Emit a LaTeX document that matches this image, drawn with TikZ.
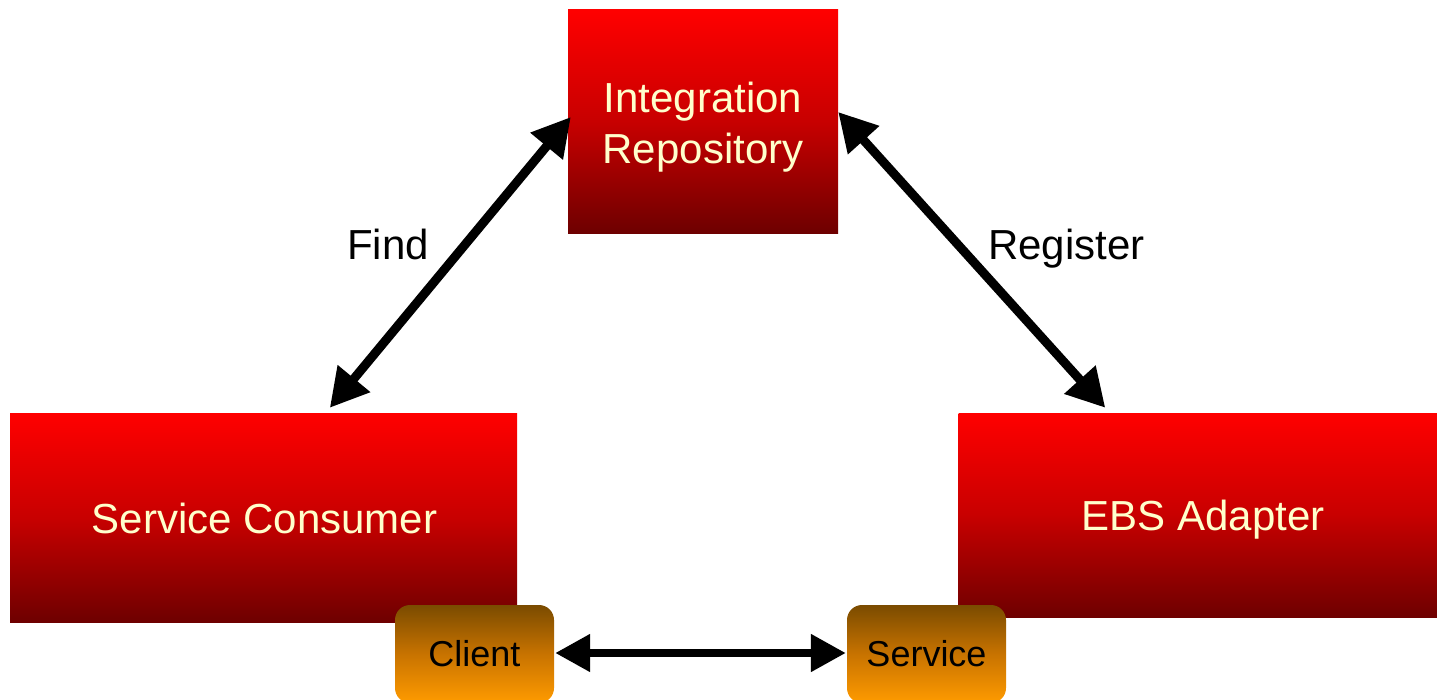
\documentclass[tikz,border=0pt]{standalone}
\usepackage{fontspec}
\setmainfont{Liberation Sans}
\usetikzlibrary{arrows.meta,calc}
\definecolor{cream}{RGB}{255,255,204}
\definecolor{redtop}{RGB}{255,0,0}
\definecolor{redmid}{RGB}{200,0,0}
\definecolor{redbot}{RGB}{110,0,0}
\definecolor{ortop}{RGB}{122,75,0}
\definecolor{ormid}{RGB}{200,115,0}
\definecolor{orbot}{RGB}{255,155,0}
\tikzset{
  bigbox/.style={rectangle, inner sep=0pt, top color=redtop, bottom color=redbot, middle color=redmid},
  boxtext/.style={text=cream, align=center, inner sep=0pt, font=\fontsize{42}{51}\selectfont},
  smallbox/.style={rectangle, rounded corners=15pt, inner sep=0pt, top color=ortop, bottom color=orbot, middle color=ormid,
    text=black, minimum width=159pt, minimum height=98pt, font=\fontsize{36}{43}\selectfont},
  lbl/.style={anchor=base west, inner sep=0pt, font=\fontsize{42}{50}\selectfont},
  bigarr/.style={line width=9pt, {Triangle[length=38pt,width=40pt]}-{Triangle[length=38pt,width=40pt]}},
  hbarr/.style={line width=8pt, {Triangle[length=35pt,width=36pt]}-{Triangle[length=35pt,width=36pt]}}
}
\begin{document}
\begin{tikzpicture}[x=1pt,y=-1pt]
\useasboundingbox (0,0) rectangle (1437,699);
\node[bigbox, minimum width=270pt, minimum height=224pt] (irep) at (703,121) {};
\node[bigbox, minimum width=507pt, minimum height=209pt] (cons) at (263.5,517.5) {};
\node[bigbox, minimum width=479pt, minimum height=204pt] (ebs) at (1198,515) {};
\node[boxtext] (irept) at ($(irep.center)+(0,6)$) {Integration\\Repository};
\node[boxtext] (const) at ($(cons.center)+(1,1)$) {Service Consumer};
\node[boxtext] (ebst) at ($(ebs.center)+(5,5)$) {EBS Adapter};
\node[smallbox] (client) at (474.5,654) {Client};
\node[smallbox] (serv) at (926.5,654) {Service};
\draw[bigarr] ($(cons.north west)+(320,-5)$) -- ($(irep.west)+(3,-4)$);
\draw[bigarr] ($(irep.east)+(0,-9)$) -- ($(ebs.north west)+(147,-5)$);
\draw[hbarr] ($(client.east)+(1,-1)$) -- ($(serv.west)+(-1,-1)$);
\node[lbl] (find) at (347,259) {Find};
\node[lbl] (reg) at (988,259) {Register};
\end{tikzpicture}
\end{document}
